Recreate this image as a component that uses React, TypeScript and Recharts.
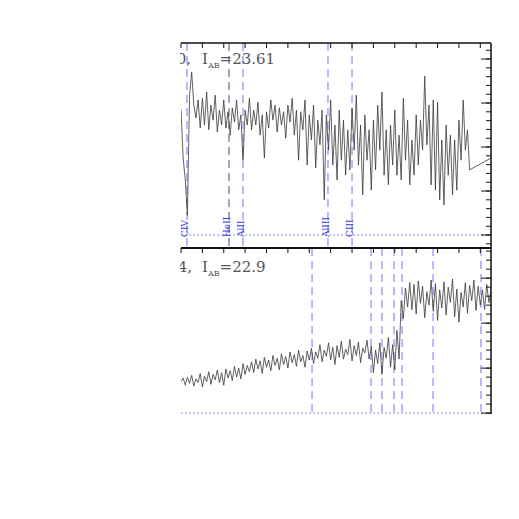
import { LineChart, Line, XAxis, YAxis, ReferenceLine } from "recharts";

// spectra sampled every 20 A starting at 6600 A
const waveStart = 6600;
const waveStep = 20;

const topFlux = [
  2.85, 1.75, 1.25, 0.45, 3.18, 3.7, 2.95, 2.66, 3.07, 2.43,
  3.11, 2.5, 3.25, 2.39, 2.95, 2.61, 3.18, 2.34, 2.84, 2.5,
  3.07, 2.43, 2.8, 2.27, 2.89, 2.57, 3.07, 2.39, 2.73, 1.7,
  2.84, 2.5, 3.11, 2.39, 2.84, 2.5, 3.02, 2.27, 2.73, 1.75,
  2.8, 2.43, 3.07, 2.61, 2.95, 2.34, 2.89, 2.5, 2.8, 2.2,
  2.95, 2.57, 3.11, 2.27, 2.84, 1.7, 2.8, 2.39, 3.07, 1.59,
  2.73, 2.16, 2.95, 1.52, 2.61, 2.05, 2.84, 0.8, 2.73, 1.93,
  3.07, 1.59, 2.5, 1.25, 2.84, 1.7, 2.61, 1.36, 2.39, 1.48,
  2.89, 1.93, 3.18, 1.59, 2.5, 0.91, 2.73, 1.7, 2.39, 1.02,
  2.61, 1.48, 2.95, 1.93, 3.25, 1.36, 2.39, 1.14, 2.5, 1.59,
  2.84, 1.36, 2.27, 1.25, 3.11, 1.7, 2.61, 1.14, 2.16, 1.36,
  2.73, 1.59, 2.61, 1.93, 3.61, 2.05, 2.95, 1.14, 3.07, 1.02,
  3.02, 0.8, 2.16, 0.68, 2.5, 1.36, 2.27, 0.91, 2.16, 1.02,
  2.61, 1.7, 3.07, 1.93, 2.39, 1.48,
];
const topTail = { wave: 9500, flux: 1.75 };

const bottomFlux = [
  0.7, 0.78, 0.62, 0.8, 0.66, 0.84, 0.6, 0.76, 0.68, 0.88,
  0.58, 0.82, 0.7, 0.92, 0.64, 0.86, 0.74, 0.96, 0.68, 0.9,
  0.62, 0.98, 0.78, 0.94, 0.72, 1.04, 0.8, 1.0, 0.76, 1.1,
  0.86, 1.06, 0.92, 1.14, 0.9, 1.2, 0.98, 1.16, 0.88, 1.24,
  1.02, 1.18, 0.94, 1.28, 1.06, 1.22, 0.96, 1.32, 1.08, 1.26,
  1.0, 1.36, 1.12, 1.3, 1.04, 1.4, 1.14, 1.28, 1.02, 1.38,
  1.18, 1.44, 1.1, 1.36, 1.22, 1.52, 1.14, 1.4, 1.26, 1.56,
  1.18, 1.46, 1.08, 1.5, 1.24, 1.6, 1.2, 1.42, 1.3, 1.64,
  1.16, 1.5, 1.28, 1.58, 1.12, 1.44, 1.34, 1.62, 1.2, 1.48,
  0.9, 1.4, 1.1, 1.56, 0.86, 1.46, 1.22, 1.68, 1.02, 1.52,
  0.96, 1.84, 1.2, 2.5, 2.1, 2.78, 2.36, 2.9, 2.3, 2.86,
  2.2, 2.94, 2.44, 2.82, 2.12, 2.7, 2.4, 2.96, 2.26, 2.88,
  2.06, 2.74, 2.34, 2.92, 2.18, 2.8, 2.46, 2.98, 2.14, 2.76,
  2.02, 2.68, 2.36, 2.9, 2.22, 2.84, 2.5, 2.96, 2.28, 2.82,
  2.4, 2.74, 2.3, 2.86, 2.46, 2.7,
];

const topLines = [
  { wave: 6656, name: "CIV", color: "#8c8cff" },
  { wave: 7049, name: "HeII", color: "#6a6a9a" },
  { wave: 7180, name: "AlII", color: "#8c8cff" },
  { wave: 7975, name: "AlIII", color: "#8c8cff" },
  { wave: 8200, name: "CIII", color: "#8c8cff" },
];
const bottomLines = [7826, 8378, 8480, 8593, 8668, 8958, 9406];

const xMinor = [6600, 6800, 7000, 7200, 7400, 7600, 7800, 8000, 8200, 8400, 8600, 8800, 9000, 9200, 9400];
const xMajor = [7000, 8000, 9000];
const topYMinor = [-0.2, 0, 0.2, 0.4, 0.6, 0.8, 1, 1.2, 1.4, 1.6, 1.8, 2, 2.2, 2.4, 2.6, 2.8, 3, 3.2, 3.4, 3.6, 3.8, 4, 4.2];
const topYMajor = [0, 1, 2, 3, 4];
const botYMinor = [0, 0.2, 0.4, 0.6, 0.8, 1, 1.2, 1.4, 1.6, 1.8, 2, 2.2, 2.4, 2.6, 2.8, 3, 3.2, 3.4, 3.6];
const botYMajor = [0, 1, 2, 3];

const topData = topFlux
  .map((flux, i) => ({ wave: waveStart + i * waveStep, flux }))
  .concat([topTail]);
const bottomData = bottomFlux.map((flux, i) => ({ wave: waveStart + i * waveStep, flux }));

const xDomain = [6600, 9500];
const blank = () => "";
const ink = "#111";
const thin = 0.01; // axis box size; must stay > 0 or the axis is not drawn

const lineLabel = (text: string) => (props: any) => {
  const vb = props.viewBox || {};
  const x = vb.x + 1;
  const y = vb.y + vb.height - 11;
  return (
    <text
      x={x}
      y={y}
      transform={`rotate(-90 ${x} ${y})`}
      fill="#3c3cd8"
      fontSize={9}
      fontFamily="DejaVu Serif"
    >
      {text}
    </text>
  );
};

export default function App() {
  return (
    <div style={{ position: "absolute", left: 0, top: 0, width: 519, height: 519, background: "#fff" }}>
      <div style={{ position: "absolute", left: 180, top: 38 }}>
        <LineChart width={316} height={214} data={topData} margin={{ top: 5, right: 5, bottom: 4, left: 1 }}>
          <XAxis xAxisId="t" dataKey="wave" type="number" domain={xDomain} allowDataOverflow orientation="top" mirror height={thin}
            ticks={xMinor} interval={0} tickSize={5} tickFormatter={blank} axisLine={{ stroke: ink, strokeWidth: 1.5 }} tickLine={{ stroke: ink }} />
          <XAxis xAxisId="tM" type="number" domain={xDomain} allowDataOverflow orientation="top" mirror height={thin}
            ticks={xMajor} interval={0} tickSize={10} tickFormatter={blank} axisLine={false} tickLine={{ stroke: ink }} />
          <XAxis xAxisId="b" type="number" domain={xDomain} allowDataOverflow orientation="bottom" mirror height={thin}
            ticks={xMinor} interval={0} tickSize={5} tickFormatter={blank} axisLine={{ stroke: ink, strokeWidth: 2 }} tickLine={{ stroke: ink }} />
          <XAxis xAxisId="bM" type="number" domain={xDomain} allowDataOverflow orientation="bottom" mirror height={thin}
            ticks={xMajor} interval={0} tickSize={10} tickFormatter={blank} axisLine={false} tickLine={{ stroke: ink }} />
          <YAxis yAxisId="r" type="number" domain={[-0.295, 4.364]} allowDataOverflow orientation="right" mirror width={thin}
            ticks={topYMinor} interval={0} tickSize={5} tickFormatter={blank} axisLine={{ stroke: ink, strokeWidth: 1.5 }} tickLine={{ stroke: ink }} />
          <YAxis yAxisId="rM" type="number" domain={[-0.295, 4.364]} allowDataOverflow orientation="right" mirror width={thin}
            ticks={topYMajor} interval={0} tickSize={10} tickFormatter={blank} axisLine={false} tickLine={{ stroke: ink }} />
          <ReferenceLine xAxisId="t" yAxisId="r" y={0} stroke="#6a6aff" strokeDasharray="1.5 2.5" />
          {topLines.map((l) => (
            <ReferenceLine key={l.name} xAxisId="t" yAxisId="r" x={l.wave} stroke={l.color} strokeWidth={1.2}
              strokeDasharray="8 5" label={lineLabel(l.name)} />
          ))}
          <Line xAxisId="t" yAxisId="r" dataKey="flux" type="linear" dot={false} stroke="#3a3a3a" strokeWidth={0.8} isAnimationActive={false} />
        </LineChart>
      </div>
      <div style={{ position: "absolute", left: 180, top: 243 }}>
        <LineChart width={316} height={176} data={bottomData} margin={{ top: 5, right: 5, bottom: 5, left: 1 }}>
          <XAxis xAxisId="t" dataKey="wave" type="number" domain={xDomain} allowDataOverflow orientation="top" mirror height={thin}
            ticks={xMinor} interval={0} tickSize={5} tickFormatter={blank} axisLine={{ stroke: ink, strokeWidth: 2 }} tickLine={{ stroke: ink }} />
          <XAxis xAxisId="tM" type="number" domain={xDomain} allowDataOverflow orientation="top" mirror height={thin}
            ticks={xMajor} interval={0} tickSize={11} tickFormatter={blank} axisLine={false} tickLine={{ stroke: ink }} />
          <YAxis yAxisId="r" type="number" domain={[-0.02, 3.67]} allowDataOverflow orientation="right" mirror width={thin}
            ticks={botYMinor} interval={0} tickSize={5} tickFormatter={blank} axisLine={{ stroke: ink, strokeWidth: 1.5 }} tickLine={{ stroke: ink }} />
          <YAxis yAxisId="rM" type="number" domain={[-0.02, 3.67]} allowDataOverflow orientation="right" mirror width={thin}
            ticks={botYMajor} interval={0} tickSize={10} tickFormatter={blank} axisLine={false} tickLine={{ stroke: ink }} />
          <ReferenceLine xAxisId="t" yAxisId="r" y={0} stroke="#6a6aff" strokeDasharray="1.5 2.5" />
          {bottomLines.map((w) => (
            <ReferenceLine key={w} xAxisId="t" yAxisId="r" x={w} stroke="#8c8cff" strokeWidth={1.2} strokeDasharray="8 5" />
          ))}
          <Line xAxisId="t" yAxisId="r" dataKey="flux" type="linear" dot={false} stroke="#3a3a3a" strokeWidth={0.8} isAnimationActive={false} />
        </LineChart>
      </div>
      <svg style={{ position: "absolute", left: 180, top: 0, overflow: "hidden" }} width={316} height={300}>
        <g fill="#555" fontFamily="DejaVu Serif" fontSize={15}>
          <text x={11} y={64} textAnchor="end">z=3.290,</text>
          <text x={22} y={64}>
            I<tspan fontSize={8} dy={4}>AB</tspan><tspan dy={-4}>=23.61</tspan>
          </text>
          <text x={12} y={272} textAnchor="end">z=6.124,</text>
          <text x={22} y={272}>
            I<tspan fontSize={8} dy={4}>AB</tspan><tspan dy={-4}>=22.9</tspan>
          </text>
        </g>
      </svg>
    </div>
  );
}
